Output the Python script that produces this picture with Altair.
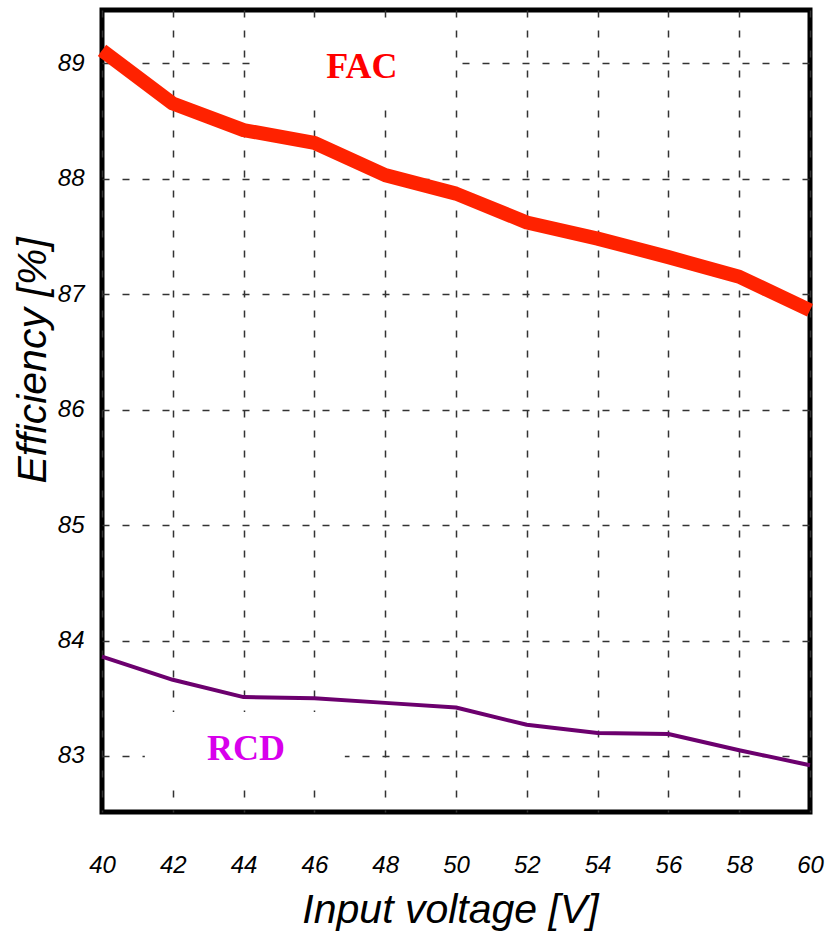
import altair as alt
import pandas as pd

voltage = [40, 42, 44, 46, 48, 50, 52, 54, 56, 58, 60]
fac = [89.11, 88.65, 88.42, 88.31, 88.03, 87.87, 87.62, 87.48, 87.32, 87.15, 86.86]
rcd = [83.86, 83.66, 83.51, 83.50, 83.46, 83.42, 83.27, 83.20, 83.19, 83.05, 82.92]

x_ticks = [40, 42, 44, 46, 48, 50, 52, 54, 56, 58, 60]
y_ticks = [83, 84, 85, 86, 87, 88, 89]

labels = ["FAC", "RCD"]
label_x = [47.34, 44.07]
label_y = [88.965, 83.06]
label_colors = ["#ff0000", "#d800ec"]

box_x = [44.41, 41.21]
box_x2 = [49.9, 46.86]
box_y = [89.33, 83.38]
box_y2 = [88.65, 82.72]

df_fac = pd.DataFrame({"v": voltage, "eff": fac})
df_rcd = pd.DataFrame({"v": voltage, "eff": rcd})
df_lab = pd.DataFrame({"t": labels, "x": label_x, "y": label_y, "c": label_colors})
df_box = pd.DataFrame({"x": box_x, "x2": box_x2, "y": box_y, "y2": box_y2})

tick_font = "Liberation Sans, Arial"
title_font = "Liberation Sans, Arial"

xscale = alt.Scale(domain=[40, 60], nice=False, zero=False)
yscale = alt.Scale(domain=[82.515, 89.46], nice=False, zero=False)

xaxis = alt.Axis(
    values=x_ticks, format="d", title="Input voltage [V]", grid=True, domain=False, ticks=False,
    labelPadding=53, labelBaseline="middle", labelFont=tick_font, labelFontSize=24,
    labelFontStyle="italic", labelColor="#000", labelFlush=False,
    gridColor="#333", gridWidth=1.5, gridDash=[7, 13],
    titleFont=title_font, titleFontSize=41, titleFontStyle="italic", titleFontWeight="normal",
    titleColor="#000", titleX=348, titleY=110, titleBaseline="alphabetic", titleAlign="center",
)
yaxis = alt.Axis(
    values=y_ticks, format="d", title="Efficiency [%]", grid=True, domain=False, ticks=False,
    labelPadding=18, labelBaseline="middle", labelFont=tick_font, labelFontSize=24,
    labelFontStyle="italic", labelColor="#000", labelFlush=False,
    gridColor="#333", gridWidth=1.5, gridDash=[7, 13],
    titleFont=title_font, titleFontSize=41, titleFontStyle="italic", titleFontWeight="normal",
    titleColor="#000", titleX=-57, titleY=350, titleAngle=270, titleBaseline="alphabetic",
    titleAlign="center",
)

boxes = alt.Chart(df_box).mark_rect(color="white", opacity=1).encode(
    x=alt.X("x:Q", scale=xscale, axis=xaxis),
    x2="x2:Q",
    y=alt.Y("y:Q", scale=yscale, axis=yaxis),
    y2="y2:Q",
)

line_fac = alt.Chart(df_fac).mark_line(color="#ff2200", strokeWidth=14, strokeCap="butt", strokeJoin="round").encode(
    x=alt.X("v:Q", scale=xscale),
    y=alt.Y("eff:Q", scale=yscale),
)
line_rcd = alt.Chart(df_rcd).mark_line(color="#6c006e", strokeWidth=4, strokeJoin="round").encode(
    x=alt.X("v:Q", scale=xscale),
    y=alt.Y("eff:Q", scale=yscale),
)

texts = alt.Chart(df_lab).mark_text(
    font="Liberation Serif, Times New Roman", fontSize=36, fontWeight="bold", baseline="middle", align="center"
).encode(
    x=alt.X("x:Q", scale=xscale),
    y=alt.Y("y:Q", scale=yscale),
    text="t:N",
    color=alt.Color("c:N", scale=None),
)

chart = alt.layer(boxes, line_fac, line_rcd, texts).properties(
    width=708, height=802,
    autosize=alt.AutoSizeParams(type="none"),
    padding={"left": 102, "top": 10, "right": 17, "bottom": 125},
    background="white",
).configure_view(stroke="black", strokeWidth=5)

chart.save("out.html", embed_options={"renderer": "svg", "actions": False})
